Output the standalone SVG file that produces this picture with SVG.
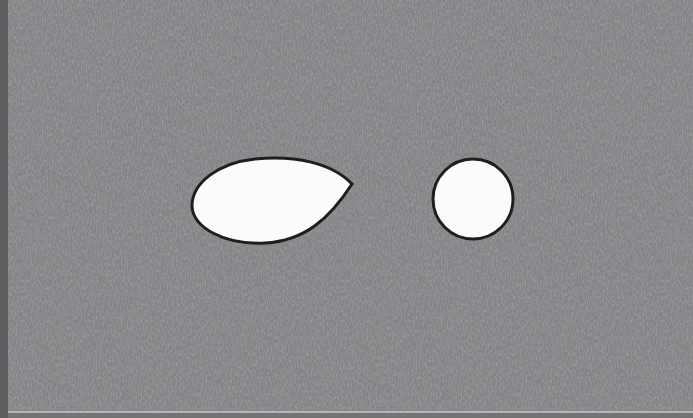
<svg xmlns="http://www.w3.org/2000/svg" width="693" height="418" viewBox="0 0 693 418">
  <defs>
    <filter id="grain" x="0" y="0" width="100%" height="100%">
      <feTurbulence type="fractalNoise" baseFrequency="0.8 0.3" numOctaves="2" seed="3" result="n"/>
      <feColorMatrix type="matrix" values="0 0 0 0 0.42  0 0 0 0 0.42  0 0 0 0 0.44  -1.2 0 0 0 0.75" in="n" result="c"/>
      <feComposite in="c" in2="SourceGraphic" operator="in"/>
    </filter>
  </defs>
  <style>
    .shape { fill: #fbfbfb; stroke: #1e1e1e; stroke-width: 3; }
  </style>
  <rect x="0" y="0" width="693" height="418" fill="#838386"/>
  <rect x="0" y="0" width="693" height="418" fill="#000" filter="url(#grain)"/>
  <rect x="0" y="0" width="8" height="418" fill="#5e5e60"/>
  <rect x="8" y="411" width="685" height="2" fill="#b4b4b6"/>
  <rect x="8" y="413" width="685" height="5" fill="#737375"/>
  <g id="drop">
    <path class="shape" d="M352,184 C 332,163 295,155 255,159 C 218,163 192,183 192,206 C 193,228 225,245 265,243 C 305,241 330,218 352,184 Z"/>
  </g>
  <g id="circle">
    <circle class="shape" cx="473" cy="199" r="40"/>
  </g>
</svg>
